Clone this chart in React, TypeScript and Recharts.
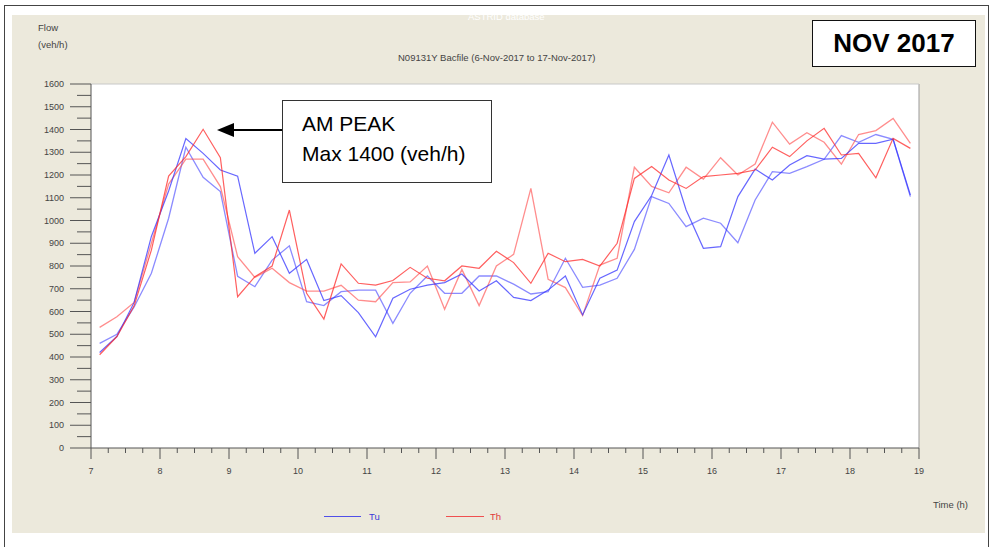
import React from 'react';
import { LineChart, Line, XAxis, YAxis, CartesianGrid, ReferenceLine } from 'recharts';

// 15-minute interval midpoints, 07:00 - 19:00
const times = [
  7.125, 7.375, 7.625, 7.875, 8.125, 8.375, 8.625, 8.875,
  9.125, 9.375, 9.625, 9.875, 10.125, 10.375, 10.625, 10.875,
  11.125, 11.375, 11.625, 11.875, 12.125, 12.375, 12.625, 12.875,
  13.125, 13.375, 13.625, 13.875, 14.125, 14.375, 14.625, 14.875,
  15.125, 15.375, 15.625, 15.875, 16.125, 16.375, 16.625, 16.875,
  17.125, 17.375, 17.625, 17.875, 18.125, 18.375, 18.625, 18.875,
];

// two Tuesdays, two Thursdays (veh/h)
const tuWeek1 = [
  420, 490, 640, 930, 1130, 1360, 1295, 1222,
  1195, 856, 929, 768, 829, 648, 670, 595,
  489, 658, 698, 716, 727, 765, 690, 735,
  662, 648, 694, 756, 585, 746, 782, 995,
  1110, 1288, 1046, 878, 885, 1105, 1226, 1178,
  1244, 1285, 1270, 1273, 1339, 1339, 1357, 1112,
];
const tuWeek2 = [
  460, 500, 620, 768, 1010, 1322, 1190, 1127,
  755, 709, 826, 889, 643, 626, 687, 694,
  694, 548, 680, 756, 680, 680, 756, 756,
  720, 677, 687, 834, 706, 716, 746, 873,
  1105, 1075, 973, 1010, 988, 902, 1090, 1215,
  1207, 1237, 1269, 1373, 1344, 1378, 1357, 1105,
];
const thWeek1 = [
  410, 490, 625, 870, 1195, 1281, 1401, 1276,
  665, 753, 800, 1046, 680, 567, 809, 724,
  716, 736, 794, 746, 735, 800, 790, 865,
  815, 724, 856, 819, 829, 800, 900, 1185,
  1237, 1178, 1141, 1193, 1200, 1207, 1222, 1322,
  1281, 1350, 1405, 1288, 1295, 1188, 1361, 1317,
];
const thWeek2 = [
  530, 577, 640, 900, 1160, 1270, 1270, 1149,
  841, 750, 790, 727, 690, 690, 715, 650,
  643, 727, 730, 800, 610, 785, 626, 800,
  851, 1141, 741, 705, 582, 804, 834, 1234,
  1150, 1122, 1234, 1182, 1276, 1200, 1248, 1432,
  1336, 1386, 1344, 1248, 1378, 1395, 1449, 1339,
];

const xLabels = [7, 8, 9, 10, 11, 12, 13, 14, 15, 16, 17, 18, 19];
const yLabels = [0, 100, 200, 300, 400, 500, 600, 700, 800, 900, 1000, 1100, 1200, 1300, 1400, 1500, 1600];

const data = times.map((t, i) => ({
  t,
  tu1: tuWeek1[i],
  tu2: tuWeek2[i],
  th1: thWeek1[i],
  th2: thWeek2[i],
}));

// minor ticks every quarter hour / every 50 veh/h
const xTicks = xLabels.flatMap((h) => (h < 19 ? [h, h + 0.25, h + 0.5, h + 0.75] : [h]));
const yTicks = yLabels.flatMap((v) => (v < 1600 ? [v, v + 50] : [v]));

const smallFont = '"Liberation Sans Narrow", "Liberation Sans", Arial, sans-serif';

const YTick = (props: any) => {
  const { x, y, payload } = props;
  const major = payload.value % 100 === 0;
  return (
    <g>
      <line x1={x - (major ? 21 : 14)} x2={x} y1={y} y2={y} stroke="#555" strokeWidth={1} />
      {major && (
        <text x={x - 27} y={y + 3} textAnchor="end" fontSize={9} fill="#444" fontFamily={smallFont}>
          {payload.value}
        </text>
      )}
    </g>
  );
};

const XTick = (props: any) => {
  const { x, y, payload } = props;
  const major = Number.isInteger(payload.value);
  return (
    <g>
      <line x1={x} x2={x} y1={y} y2={y + (major ? 11 : 5)} stroke="#555" strokeWidth={1} />
      {major && (
        <text x={x} y={y + 26} textAnchor="middle" fontSize={9} fill="#444" fontFamily={smallFont}>
          {payload.value}
        </text>
      )}
    </g>
  );
};

const txt = (extra: React.CSSProperties): React.CSSProperties => ({
  position: 'absolute',
  fontFamily: smallFont,
  fontSize: 9.5,
  color: '#444',
  whiteSpace: 'nowrap',
  lineHeight: 1,
  ...extra,
});

export default function App() {
  return (
    <div style={{ position: 'absolute', left: 0, top: 0, width: 991, height: 547, background: '#fff', overflow: 'hidden' }}>
      {/* page frame */}
      <div style={{ position: 'absolute', left: 4, top: 5, width: 983, height: 560, borderTop: '1.5px solid #444', borderLeft: '1.5px solid #444', borderRight: '1.5px solid #444' }} />
      {/* beige panel */}
      <div style={{ position: 'absolute', left: 12, top: 15, width: 973, height: 518, background: '#ECE9DC' }} />

      <div style={{ position: 'absolute', left: 0, top: 0 }}>
        <LineChart width={991} height={547} data={data} margin={{ top: 84, right: 72, bottom: 69, left: 41 }}>
          <CartesianGrid fill="#fff" horizontal={false} vertical={false} />
          <XAxis
            dataKey="t"
            type="number"
            domain={[7, 19]}
            ticks={xTicks}
            interval={0}
            height={30}
            tickSize={0}
            tickMargin={0}
            tick={<XTick />}
            axisLine={{ stroke: '#555' }}
          />
          <YAxis
            domain={[0, 1600]}
            ticks={yTicks}
            interval={0}
            width={50}
            tickSize={0}
            tickMargin={0}
            tick={<YTick />}
            axisLine={{ stroke: '#555' }}
          />
          <ReferenceLine x={19} stroke="#9a9a9a" />
          <ReferenceLine y={1600} stroke="#c8c8c8" />
          <Line type="linear" dataKey="tu2" stroke="#5a5aff" strokeOpacity={0.7} strokeWidth={1.3} dot={false} isAnimationActive={false} />
          <Line type="linear" dataKey="th2" stroke="#ff5050" strokeOpacity={0.65} strokeWidth={1.3} dot={false} isAnimationActive={false} />
          <Line type="linear" dataKey="tu1" stroke="#3434ff" strokeOpacity={0.75} strokeWidth={1.2} dot={false} isAnimationActive={false} />
          <Line type="linear" dataKey="th1" stroke="#ff2a2a" strokeOpacity={0.75} strokeWidth={1.2} dot={false} isAnimationActive={false} />
        </LineChart>
      </div>

      {/* texts on the panel */}
      <div style={txt({ left: 468, top: 12, color: '#fff' })}>ASTRID database</div>
      <div style={txt({ left: 38, top: 23 })}>Flow</div>
      <div style={txt({ left: 38, top: 40 })}>(veh/h)</div>
      <div style={txt({ left: 398, top: 53 })}>N09131Y Bacfile (6-Nov-2017 to 17-Nov-2017)</div>
      <div style={txt({ left: 933, top: 500 })}>Time (h)</div>

      {/* legend */}
      <div style={{ position: 'absolute', left: 324, top: 516, width: 37, height: 1, background: '#5050e8' }} />
      <div style={txt({ left: 369, top: 512, color: '#3a3ad8' })}>Tu</div>
      <div style={{ position: 'absolute', left: 446, top: 516, width: 38, height: 1, background: '#f05050' }} />
      <div style={txt({ left: 490, top: 512, color: '#e03a3a' })}>Th</div>

      {/* NOV 2017 box */}
      <div style={{ position: 'absolute', left: 812, top: 20, width: 162, height: 45, background: '#fff', border: '1.5px solid #111', display: 'flex', alignItems: 'center', justifyContent: 'center', fontFamily: '"Liberation Sans", Arial, sans-serif', fontWeight: 'bold', fontSize: 26, color: '#000' }}>
        NOV 2017
      </div>

      {/* AM peak annotation */}
      <div style={{ position: 'absolute', left: 282, top: 100, width: 208, height: 81, background: '#fff', border: '1.5px solid #333' }}>
        <div style={{ position: 'absolute', left: 19, top: 12, fontFamily: '"Liberation Sans", Arial, sans-serif', fontSize: 21, color: '#000', lineHeight: 1, whiteSpace: 'nowrap' }}>AM PEAK</div>
        <div style={{ position: 'absolute', left: 19, top: 42, fontFamily: '"Liberation Sans", Arial, sans-serif', fontSize: 21, color: '#000', lineHeight: 1, whiteSpace: 'nowrap' }}>Max 1400 (veh/h)</div>
      </div>
      <svg style={{ position: 'absolute', left: 0, top: 0 }} width={991} height={547} pointerEvents="none">
        <line x1={230} y1={130} x2={282} y2={130} stroke="#000" strokeWidth={2} />
        <polygon points="217,130 234,123 234,137" fill="#000" />
      </svg>
    </div>
  );
}
